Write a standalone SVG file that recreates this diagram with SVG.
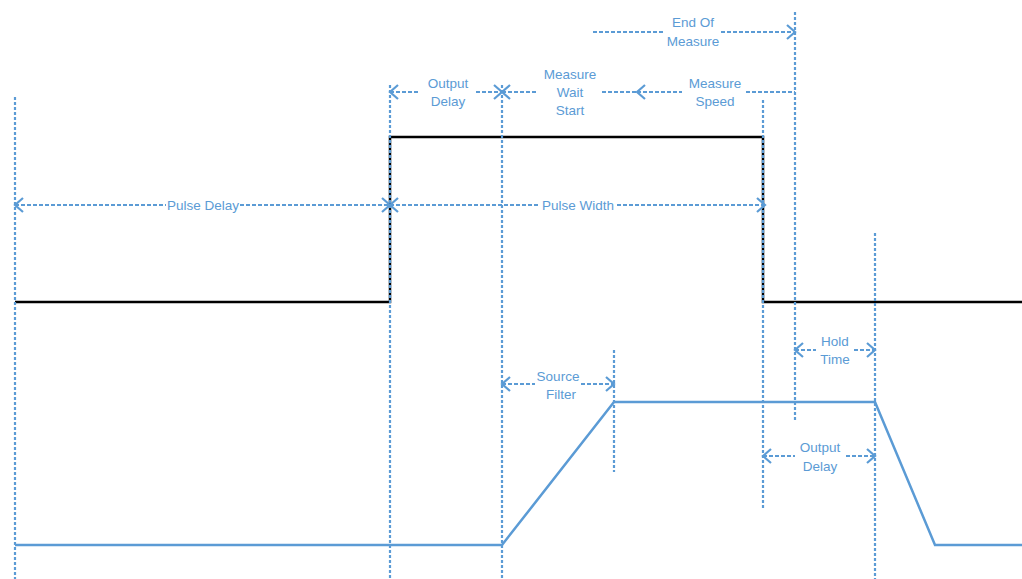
<svg xmlns="http://www.w3.org/2000/svg" width="1022" height="579" viewBox="0 0 1022 579">
<style>
.guide{stroke:#5b9bd5;stroke-width:2.2;stroke-dasharray:3 2;fill:none}
.dim{stroke:#5b9bd5;stroke-width:2.2;stroke-dasharray:4 2;fill:none}
.arr{marker-end:url(#ah)}
.arrs{marker-start:url(#ah)}
.sig{fill:none;stroke-width:2.5;stroke-linejoin:miter}
text{font-family:"Liberation Sans",Arial,sans-serif;font-size:13.5px;fill:#5b9bd5;text-anchor:middle}
</style>
<defs>
<marker id="ah" markerUnits="userSpaceOnUse" markerWidth="20" markerHeight="20" refX="0" refY="0" viewBox="-10 -10 20 20" orient="auto-start-reverse">
<path d="M-8,-7 L0,0 L-8,7" fill="none" stroke="#5b9bd5" stroke-width="2.2"/>
</marker>
</defs>
<rect width="1022" height="579" fill="#ffffff"/>
<g id="signals">
<path class="sig" stroke="#000000" d="M15,302 H390 V137 H763 V302 H1022"/>
<path class="sig" stroke="#5b9bd5" d="M15,545 H502 L614,402 H875 L935,545 H1022"/>
</g>
<g id="connectors">
<line class="guide" x1="15" y1="97" x2="15" y2="579"/>
<line class="guide" x1="390" y1="85" x2="390" y2="579"/>
<line class="guide" x1="502" y1="85" x2="502" y2="579"/>
<line class="guide" x1="614" y1="350" x2="614" y2="472"/>
<line class="guide" x1="763" y1="100" x2="763" y2="510"/>
<line class="guide" x1="795" y1="12" x2="795" y2="422"/>
<line class="guide" x1="875" y1="233" x2="875" y2="579"/>
</g>
<g id="pulse-delay">
<path class="dim arrs" d="M15,205 H166"/>
<path class="dim arr" d="M240,205 H390"/>
<text x="203" y="210">Pulse Delay</text>
</g>
<g id="pulse-width">
<path class="dim arrs" d="M390,205 H540"/>
<path class="dim arr" d="M617,205 H765"/>
<text x="578" y="210">Pulse Width</text>
</g>
<g id="output-delay-top">
<path class="dim arrs" d="M390,92 H420"/>
<path class="dim arr" d="M476,92 H502"/>
<text x="448" y="88">Output</text>
<text x="448" y="106">Delay</text>
</g>
<g id="measure-wait-start">
<path class="dim arrs" d="M502,92 H538"/>
<path class="dim" d="M602,92 H637"/>
<text x="570" y="79">Measure</text>
<text x="570" y="97">Wait</text>
<text x="570" y="115">Start</text>
</g>
<g id="measure-speed">
<path class="dim arrs" d="M637,92 H682"/>
<path class="dim" d="M746,92 H795"/>
<text x="715" y="88">Measure</text>
<text x="715" y="106">Speed</text>
</g>
<g id="end-of-measure">
<path class="dim" d="M593,32 H664"/>
<path class="dim arr" d="M721,32 H795"/>
<text x="693" y="27">End Of</text>
<text x="693" y="46">Measure</text>
</g>
<g id="hold-time">
<path class="dim arrs" d="M795,350 H816"/>
<path class="dim arr" d="M854,350 H875"/>
<text x="835" y="346">Hold</text>
<text x="835" y="364">Time</text>
</g>
<g id="source-filter">
<path class="dim arrs" d="M502,384 H535"/>
<path class="dim arr" d="M581,384 H614"/>
<text x="558" y="381">Source</text>
<text x="561" y="399">Filter</text>
</g>
<g id="output-delay-bottom">
<path class="dim arrs" d="M763,456 H795"/>
<path class="dim arr" d="M846,456 H875"/>
<text x="820" y="452">Output</text>
<text x="820" y="471">Delay</text>
</g>
</svg>
